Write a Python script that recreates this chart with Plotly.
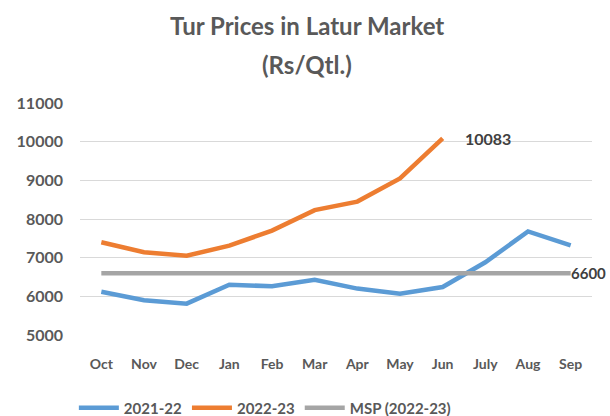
import plotly.graph_objects as go

months = ["Oct", "Nov", "Dec", "Jan", "Feb", "Mar", "Apr", "May", "Jun", "July", "Aug", "Sep"]
prices_2021_22 = [6120, 5900, 5810, 6300, 6260, 6430, 6200, 6070, 6240, 6880, 7680, 7320]
prices_2022_23 = [7400, 7140, 7050, 7310, 7700, 8230, 8450, 9050, 10083]
msp_2022_23 = [6600] * 12
y_ticks = [5000, 6000, 7000, 8000, 9000, 10000, 11000]

FONT = "Lato"
GRAY_TXT = "#595959"

fig = go.Figure()
fig.add_trace(go.Scatter(x=months, y=prices_2021_22, mode="lines", name="<b>2021-22</b>",
                         line=dict(color="#5B9BD5", width=4.5)))
fig.add_trace(go.Scatter(x=months[:len(prices_2022_23)], y=prices_2022_23, mode="lines", name="<b>2022-23</b>",
                         line=dict(color="#ED7D31", width=4.5)))
fig.add_trace(go.Scatter(x=months, y=msp_2022_23, mode="lines", name="<b>MSP (2022-23)</b>",
                         line=dict(color="#A5A5A5", width=4.5)))

fig.add_annotation(x=months[len(prices_2022_23) - 1], y=prices_2022_23[-1], text="<b>10083</b>",
                   showarrow=False, xanchor="left", xshift=20,
                   font=dict(family=FONT, size=16, color="#404040"))
fig.add_annotation(x=months[-1], y=msp_2022_23[-1], text="<b>6600</b>",
                   showarrow=False, xanchor="left", xshift=-2,
                   font=dict(family=FONT, size=15, color="#404040"))

fig.add_annotation(xref="paper", yref="paper", x=(307 - 80) / 512, y=1.336, text="<b>Tur Prices in Latur Market</b>",
                   showarrow=False, xanchor="center", yanchor="middle",
                   font=dict(family=FONT, size=24, color=GRAY_TXT))
fig.add_annotation(xref="paper", yref="paper", x=(307 - 80) / 512, y=1.164, text="<b>(Rs/Qtl.)</b>",
                   showarrow=False, xanchor="center", yanchor="middle",
                   font=dict(family=FONT, size=24, color=GRAY_TXT))

fig.update_layout(
    width=610, height=416,
    margin=dict(l=80, r=18, t=103, b=81, autoexpand=False),
    paper_bgcolor="white", plot_bgcolor="white",
    font=dict(family=FONT, color=GRAY_TXT),
    showlegend=True,
    legend=dict(orientation="h", x=-0.012, xanchor="left", y=-0.315, yanchor="middle",
                font=dict(family=FONT, size=15, color=GRAY_TXT),
                itemwidth=40, tracegroupgap=0, bgcolor="rgba(0,0,0,0)"),
)
fig.update_xaxes(range=[-0.5, 11.5], showgrid=False, showline=False, ticks="",
                 tickmode="array", tickvals=months, ticktext=[f"<b>{m}</b>" for m in months],
                 tickfont=dict(family=FONT, size=14, color=GRAY_TXT), ticklabelstandoff=19)
fig.update_yaxes(range=[5000, 11000], tickmode="array", tickvals=y_ticks,
                 ticktext=[f"<b>{v}</b>" for v in y_ticks],
                 showgrid=True, gridcolor="#D9D9D9", gridwidth=1,
                 zeroline=False, showline=False, ticks="",
                 tickfont=dict(family=FONT, size=16, color=GRAY_TXT), ticklabelstandoff=16)

fig.write_html("out.html", config={"displayModeBar": False},
               post_script="document.body.style.margin='0';document.body.style.overflow='hidden';")
